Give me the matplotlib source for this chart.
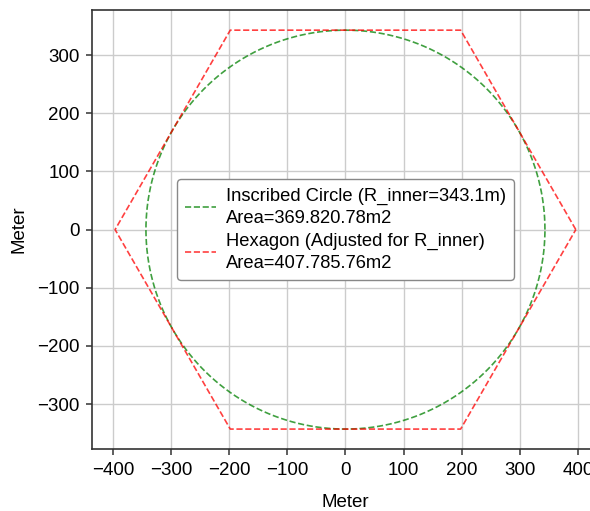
import numpy as np
import matplotlib.pyplot as plt

plt.rcParams['font.family'] = ['Liberation Sans', 'DejaVu Sans']

# chart data
r_inner = 343.1
hex_angles_deg = [0, 60, 120, 180, 240, 300, 360]
circle_area = np.pi * r_inner ** 2
hex_area = 2 * np.sqrt(3) * r_inner ** 2
ticks = [-400, -300, -200, -100, 0, 100, 200, 300, 400]


def fmt_area(a):
    # dots as thousands separator, like the original
    return f'{a:,.2f}'.replace(',', '.')


r_outer = r_inner / np.cos(np.pi / 6)
t = np.linspace(0, 2 * np.pi, 400)
ang = np.radians(hex_angles_deg)

fig = plt.figure(figsize=(5.9, 5.11), dpi=100)
ax = fig.add_axes([0.156, 0.1213, 0.859, 0.8587])

ax.plot(r_inner * np.cos(t), r_inner * np.sin(t), '--', color='g', alpha=0.75, lw=1.2,
        label=f'Inscribed Circle (R_inner={r_inner}m)\nArea={fmt_area(circle_area)}m2')
ax.plot(r_outer * np.cos(ang), r_outer * np.sin(ang), '--', color='r', alpha=0.75, lw=1.2,
        label=f'Hexagon (Adjusted for R_inner)\nArea={fmt_area(hex_area)}m2')

ax.set_aspect('equal', adjustable='datalim')
ax.set_xlim(-435.8, 435.8)
ax.set_ylim(-377.4, 377.4)
ax.set_xticks(ticks)
ax.set_yticks(ticks[1:-1])
ax.grid(True, color='#cccccc', lw=1)
ax.set_axisbelow(True)
for s in ax.spines.values():
    s.set_color('#333333')
    s.set_linewidth(1.2)
ax.tick_params(labelsize=13.5, color='#333333', length=4, width=1.1, pad=5)
ax.set_xlabel('Meter', fontsize=13.5, labelpad=11)
ax.set_ylabel('Meter', fontsize=13.5, labelpad=7)
leg = ax.legend(loc='center', fontsize=13.2, edgecolor='#888888', framealpha=1,
                handlelength=1.7, handletextpad=0.5, labelspacing=0.3,
                borderpad=0.45)
for txt in leg.get_texts():
    txt.set_linespacing(1.4)

fig.savefig('out.png', dpi=100)
